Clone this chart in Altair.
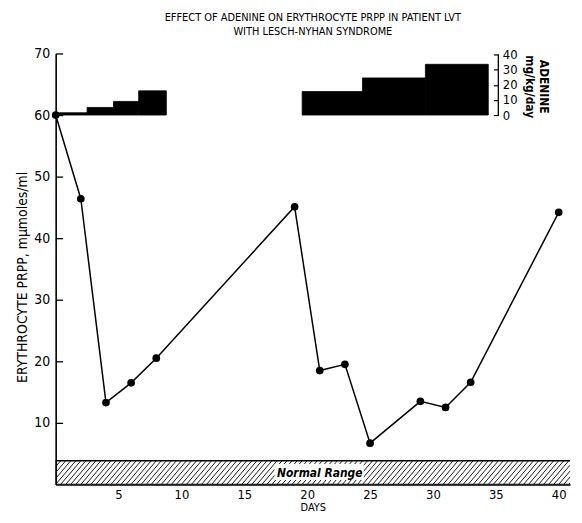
import altair as alt
import pandas as pd
import numpy as np

# ---- data ----
days = [0, 2, 4, 6, 8, 19, 21, 23, 25, 29, 31, 33, 40]
prpp = [60, 46.4, 13.3, 16.5, 20.5, 45.1, 18.5, 19.5, 6.7, 13.5, 12.5, 16.6, 44.2]

ad_start = [0.15, 2.5, 4.6, 6.6, 19.6, 24.4, 29.4]
ad_end = [2.5, 4.6, 6.6, 8.8, 24.4, 29.4, 34.4]
ad_dose = [1.5, 5, 9, 16, 15.5, 24.5, 33.5]

normal_low = 0
normal_high = 3.85
normal_label = "Normal Range"
normal_label_day = 21.0
normal_label_span = [17.4, 24.5]

x_ticks = [5, 10, 15, 20, 25, 30, 35, 40]
y_ticks = [10, 20, 30, 40, 50, 60, 70]
ad_ticks = [0, 10, 20, 30, 40]
ad_axis_day = 35.2

title_lines = ["EFFECT OF ADENINE ON ERYTHROCYTE PRPP IN PATIENT LVT",
               "WITH LESCH-NYHAN SYNDROME"]

# ---- layout ----
W, H = 518, 434
XMAX = 40.9
YMAX = 70
FONT = "DejaVu Sans Condensed"

xs = alt.Scale(domain=[0, XMAX], nice=False, zero=False)
ys = alt.Scale(domain=[0, YMAX], nice=False)

zero_px = H - 60 * H / YMAX
top_px = 1.0
ppm = (zero_px - top_px) / 40.0
ad_dom = [-(H - zero_px) / ppm, 40 + top_px / ppm]
ads = alt.Scale(domain=ad_dom, nice=False, zero=False)

x_axis = alt.Axis(values=x_ticks, tickSize=0, labelPadding=4, grid=False,
                  domainColor="black", domainWidth=1.6, labelColor="black",
                  labelFont=FONT, labelFontSize=13, title="DAYS",
                  titleFont=FONT, titleFontSize=11, titleFontWeight="normal",
                  titleColor="black", titlePadding=0)
y_axis = alt.Axis(orient="right", offset=-W, values=y_ticks, tickSize=7,
                  tickColor="black", tickWidth=1.3, labelPadding=-13,
                  labelAlign="right", grid=False, domainColor="black",
                  domainWidth=1.6, labelColor="black", labelFont=FONT,
                  labelFontSize=14,
                  title="ERYTHROCYTE PRPP, m\u03bcmoles/ml",
                  titleAngle=270, titleX=-33, titleY=H / 2 + 8,
                  titleAlign="center", titleBaseline="middle",
                  titleFont=FONT, titleFontSize=14,
                  titleFontWeight="normal", titleColor="black")
ad_axis = alt.Axis(orient="left", offset=-(ad_axis_day / XMAX * W), values=ad_ticks,
                   domain=False, tickSize=5, tickColor="black", tickWidth=1.2,
                   labelPadding=-9, labelAlign="left", grid=False,
                   labelColor="black", labelFont=FONT, labelFontSize=13,
                   title=["ADENINE", "mg/kg/day"], titleAngle=90,
                   titleX=45, titleY=33, titleAlign="center",
                   titleBaseline="middle", titleFont=FONT, titleFontSize=12,
                   titleFontWeight="bold", titleColor="black", titleLineHeight=14)

line_df = pd.DataFrame({"day": days, "prpp": prpp})
ad_df = pd.DataFrame({"s": ad_start, "e": ad_end, "dose": ad_dose})

starts = np.arange(-2.0, XMAX + 0.4, 0.4)
hatch_df = pd.DataFrame({"day": starts, "x1": starts + 1.6,
                         "prpp": normal_low, "y1": normal_high})
band_df = pd.DataFrame({"day": [0], "x1": [XMAX + 2], "prpp": [normal_low], "y1": [normal_high]})
lab_df = pd.DataFrame({"day": [normal_label_span[0]], "x1": [normal_label_span[1]],
                       "prpp": [0.7], "y1": [3.3], "xm": [normal_label_day],
                       "ym": [(normal_low + normal_high) / 2], "t": [normal_label]})

line = alt.Chart(line_df).mark_line(color="black", strokeWidth=1.5).encode(
    x=alt.X("day:Q", scale=xs, axis=x_axis),
    y=alt.Y("prpp:Q", scale=ys, axis=y_axis))

pts = alt.Chart(line_df).mark_circle(color="black", size=60, opacity=1).encode(
    x=alt.X("day:Q", scale=xs, axis=x_axis), y=alt.Y("prpp:Q", scale=ys, axis=y_axis))

hatch = alt.Chart(hatch_df).mark_rule(color="black", strokeWidth=0.9, clip=True).encode(
    x=alt.X("day:Q", scale=xs, axis=x_axis), x2="x1",
    y=alt.Y("prpp:Q", scale=ys, axis=y_axis), y2="y1")

band = alt.Chart(band_df).mark_rect(fill=None, stroke="black", strokeWidth=1.6,
                                    clip=True).encode(
    x=alt.X("day:Q", scale=xs, axis=x_axis), x2="x1",
    y=alt.Y("prpp:Q", scale=ys, axis=y_axis), y2="y1")

labbox = alt.Chart(lab_df).mark_rect(fill="white").encode(
    x=alt.X("day:Q", scale=xs, axis=x_axis), x2="x1",
    y=alt.Y("prpp:Q", scale=ys, axis=y_axis), y2="y1")

labtxt = alt.Chart(lab_df).mark_text(font=FONT, fontSize=12, fontStyle="italic",
                                     fontWeight="bold", color="black").encode(
    x=alt.X("xm:Q", scale=xs, axis=x_axis),
    y=alt.Y("ym:Q", scale=ys, axis=y_axis), text="t:N")

prpp_layer = alt.layer(line, hatch, band, labbox, labtxt, pts)

bars = alt.Chart(ad_df).mark_rect(color="black", stroke="black", strokeWidth=0.8).encode(
    x=alt.X("s:Q", scale=xs, axis=x_axis), x2="e",
    y=alt.Y("dose:Q", scale=ads, axis=ad_axis),
    y2=alt.datum(0))

ad_rule_df = pd.DataFrame({"s": [ad_axis_day], "dose": [ad_ticks[0]], "hi": [ad_ticks[-1]]})
ad_rule = alt.Chart(ad_rule_df).mark_rule(color="black", strokeWidth=1.3).encode(
    x=alt.X("s:Q", scale=xs, axis=x_axis),
    y=alt.Y("dose:Q", scale=ads, axis=ad_axis), y2="hi")

ad_layer = alt.layer(bars, ad_rule)

chart = alt.layer(prpp_layer, ad_layer).resolve_scale(y="independent").properties(
    width=W, height=H,
    autosize=alt.AutoSizeParams(type="none"),
    padding={"left": 48, "top": 44, "right": 4, "bottom": 29},
    title=alt.Title(title_lines, font=FONT, fontSize=11, fontWeight="normal",
                    color="black", anchor="middle", offset=10, lineHeight=14),
).configure_view(stroke=None)

chart.save("out.html", embed_options={"renderer": "svg", "actions": False})
